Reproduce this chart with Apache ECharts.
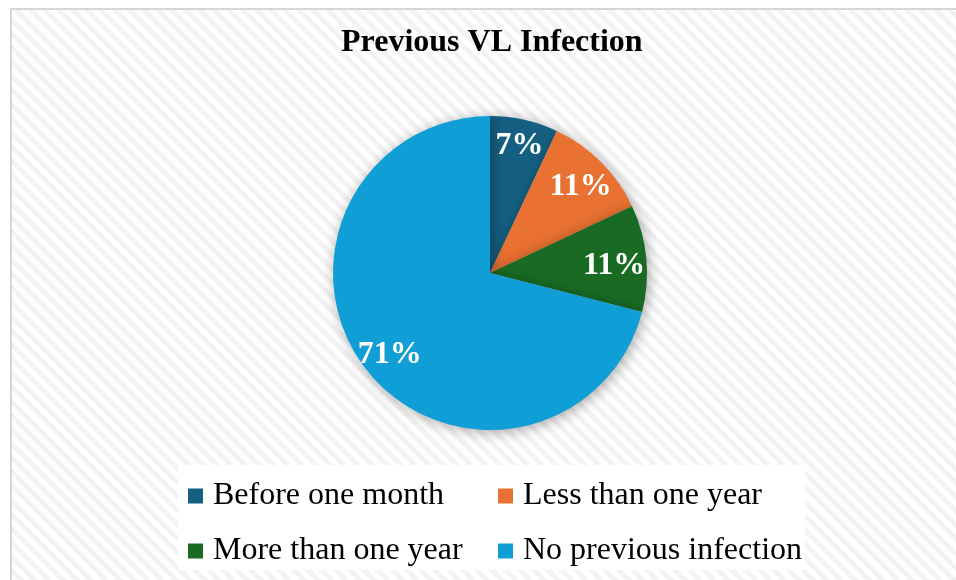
<!DOCTYPE html>
<html>
<head>
<meta charset="utf-8">
<script src="https://cdn.jsdelivr.net/npm/echarts@6/dist/echarts.min.js"></script>
<style>
  html, body { margin: 0; padding: 0; width: 956px; height: 580px; overflow: hidden; background: #fff; }
  #frame {
    position: absolute; left: 10px; top: 8px; width: 960px; height: 590px;
    border: 2px solid #d6d6d6; box-sizing: border-box;
    background: repeating-linear-gradient(45deg, #ffffff 0px, #ffffff 5px, #f3f3f3 5px, #f3f3f3 10px);
  }
  #chart { position: absolute; left: 0; top: 0; width: 956px; height: 580px; }
</style>
</head>
<body>
<div id="frame"></div>
<div id="chart"></div>
<script>
const categories = ['Before one month', 'Less than one year', 'More than one year', 'No previous infection'];
const values = [7, 11, 11, 71];
const colors = ['#156082', '#E97132', '#196B24', '#0F9ED5'];

const cx = 490, cy = 273, R = 157;
const total = values.reduce((a, b) => a + b, 0);

const chart = echarts.init(document.getElementById('chart'));

const legendText = { fontFamily: 'Liberation Serif', fontSize: 32, color: '#000', lineHeight: 30, padding: [0, 0, 0, 5] };

chart.setOption({
  backgroundColor: 'transparent',
  title: {
    text: 'Previous VL Infection',
    left: 336,
    top: 22,
    textStyle: { fontFamily: 'Liberation Serif', fontWeight: 'bold', fontSize: 32, color: '#000' }
  },
  graphic: [{
    type: 'rect', z: 0,
    shape: { x: 178, y: 465, width: 627, height: 105 },
    style: { fill: '#ffffff' }
  }],
  legend: [{
    orient: 'vertical', left: 183, top: 475, itemGap: 23,
    itemWidth: 15, itemHeight: 15, icon: 'rect',
    data: [categories[0], categories[2]],
    textStyle: legendText
  }, {
    orient: 'vertical', left: 493, top: 475, itemGap: 23,
    itemWidth: 15, itemHeight: 15, icon: 'rect',
    data: [categories[1], categories[3]],
    textStyle: legendText
  }],
  series: [{
    type: 'pie',
    center: [cx, cy],
    radius: R,
    startAngle: 90,
    clockwise: true,
    animation: false,
    itemStyle: {
      borderWidth: 0,
      shadowBlur: 14, shadowColor: 'rgba(0,0,0,0.35)', shadowOffsetX: 2, shadowOffsetY: 2
    },
    emphasis: { disabled: true },
    label: {
      show: true, position: 'inside',
      formatter: p => p.value + '%',
      fontFamily: 'Liberation Serif', fontWeight: 'bold', fontSize: 32, color: '#fff'
    },
    labelLine: { show: false },
    // keep labels near the outer edge of their slice
    labelLayout: function (p) {
      const i = p.dataIndex;
      let before = 0;
      for (let k = 0; k < i; k++) before += values[k];
      const mid = Math.PI / 2 - 2 * Math.PI * (before + values[i] / 2) / total;
      const w = p.labelRect.width;
      const d = R - 20 - Math.abs(Math.cos(mid)) * w * 0.2;
      return { x: cx + d * Math.cos(mid), y: cy - d * Math.sin(mid) + 4, align: 'center', verticalAlign: 'middle' };
    },
    data: categories.map((c, i) => ({ name: c, value: values[i], itemStyle: { color: colors[i] } }))
  }]
});
</script>
</body>
</html>
